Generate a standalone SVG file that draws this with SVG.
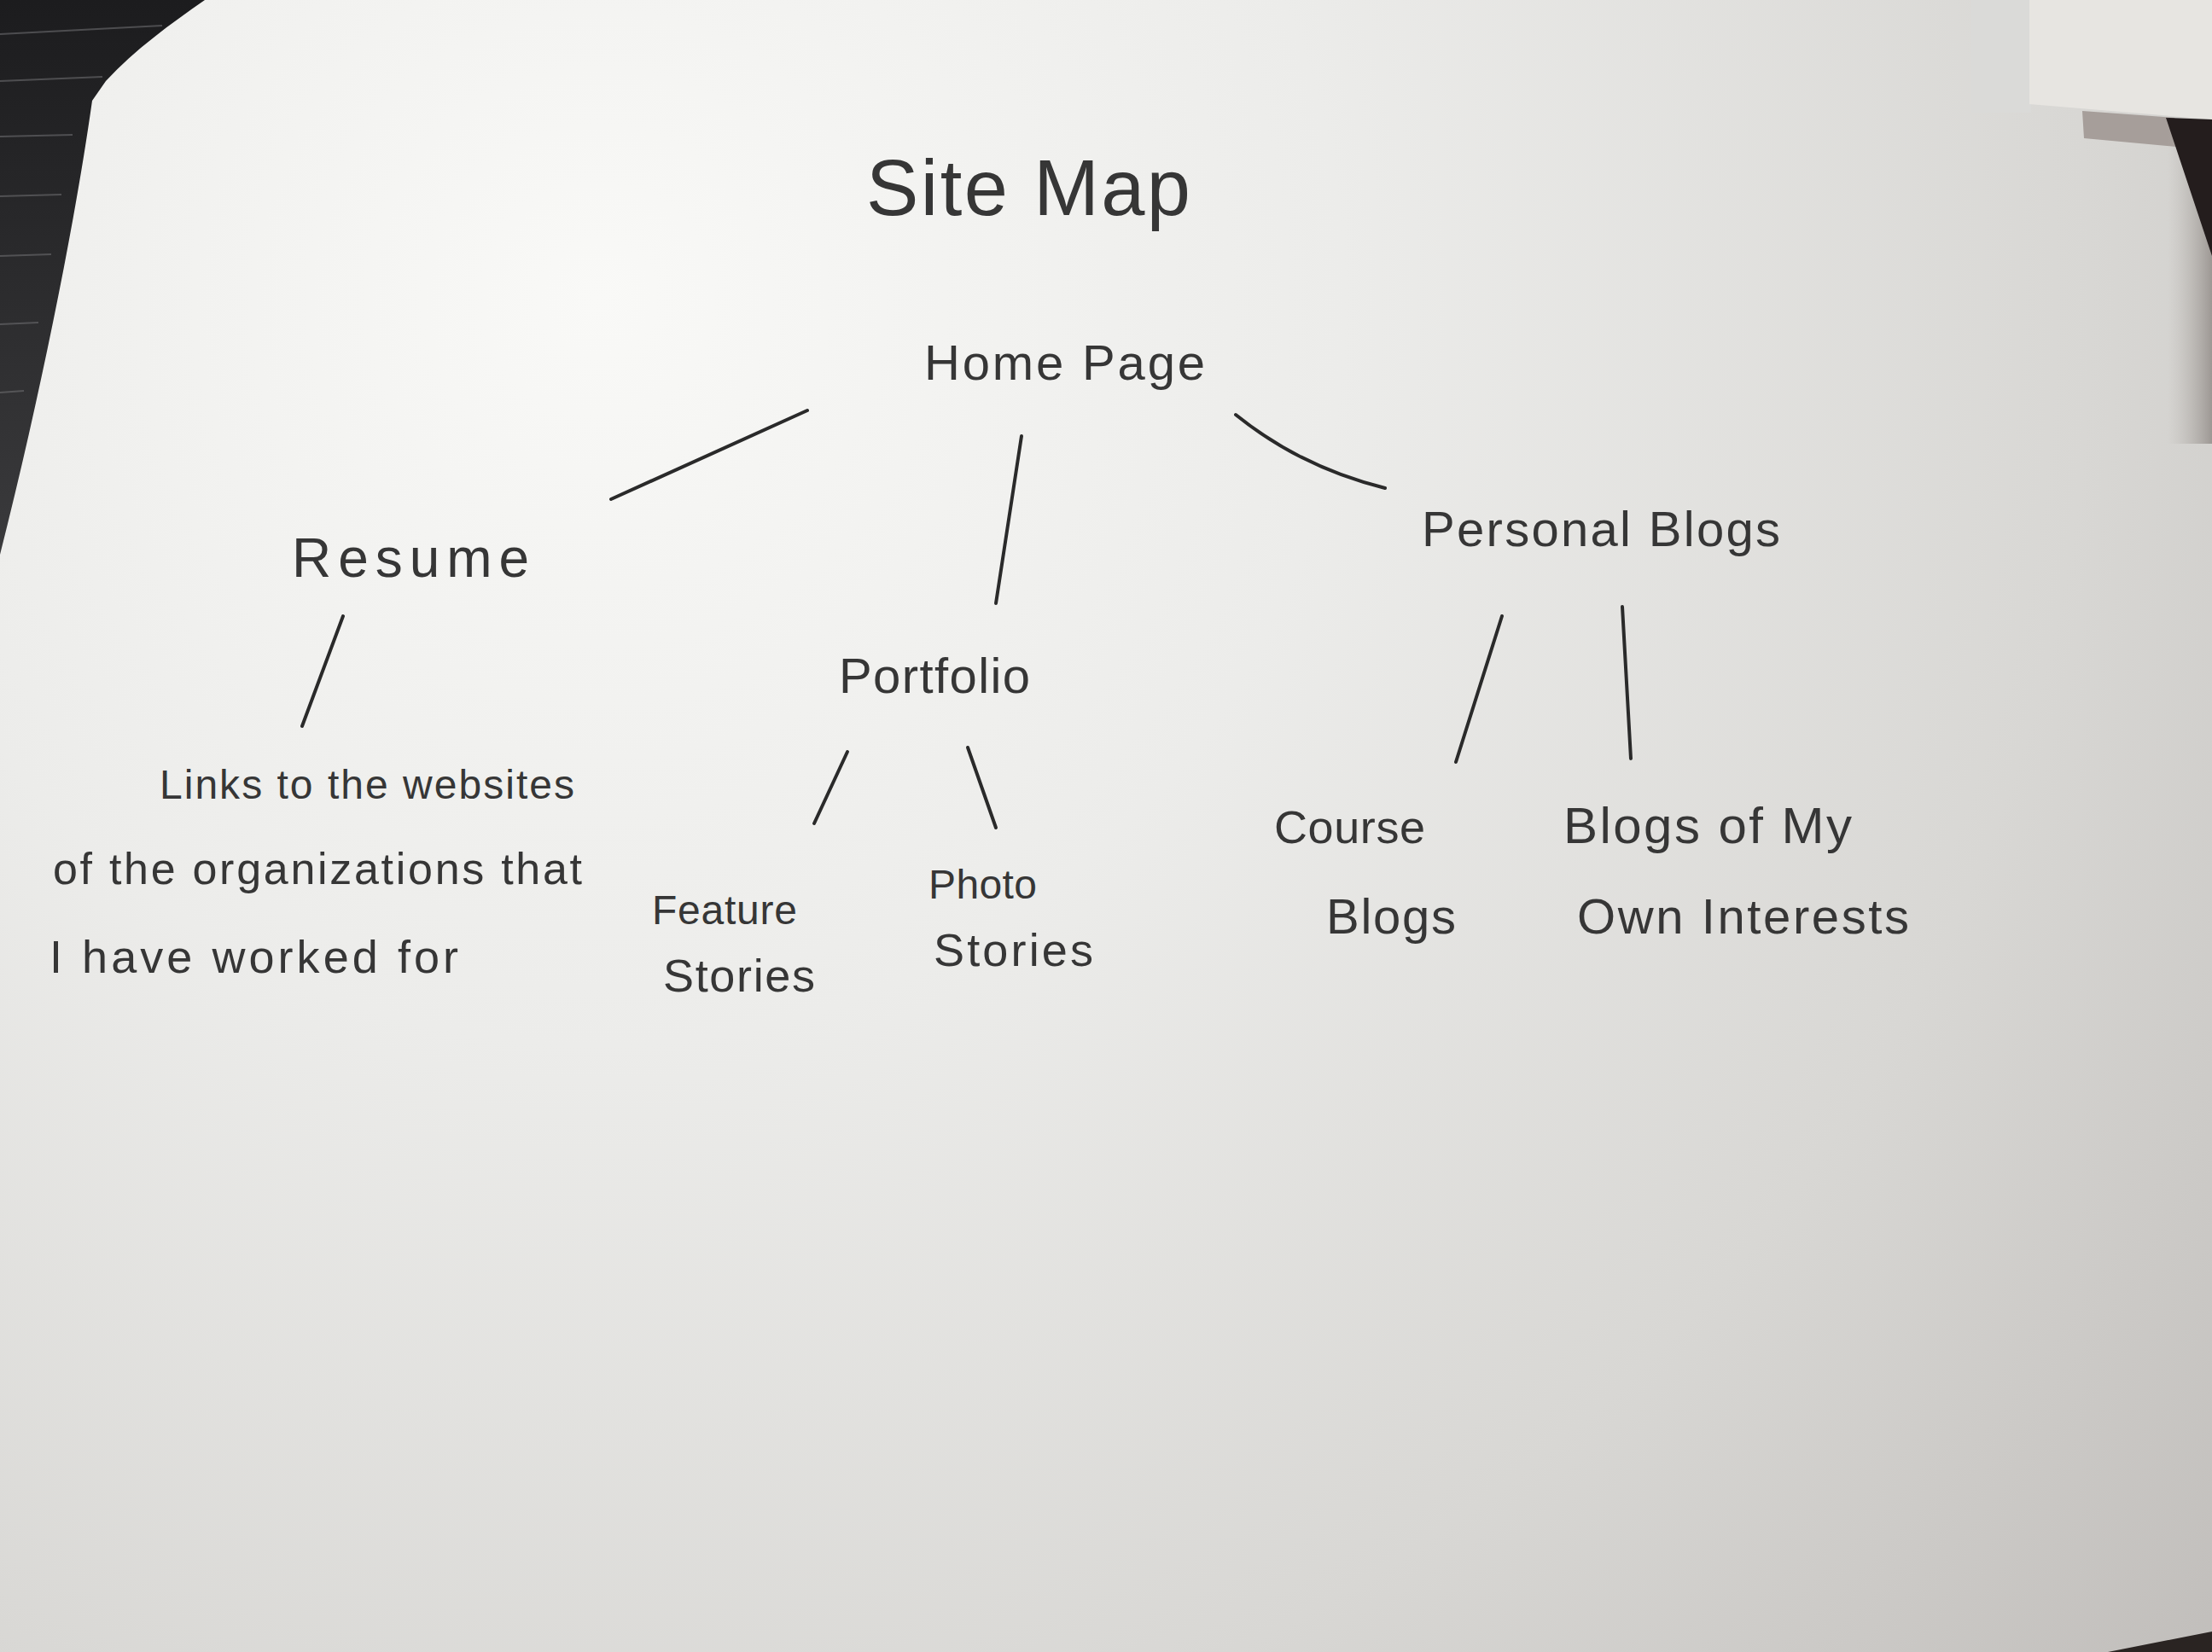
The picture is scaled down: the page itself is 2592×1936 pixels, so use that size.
<svg xmlns="http://www.w3.org/2000/svg" width="2592" height="1936" viewBox="0 0 2592 1936">
<defs>
<radialGradient id="paper" cx="700" cy="350" r="2500" gradientUnits="userSpaceOnUse">
<stop offset="0" stop-color="#f9f9f7"/>
<stop offset="0.35" stop-color="#ececea"/>
<stop offset="0.7" stop-color="#d8d7d4"/>
<stop offset="1" stop-color="#c0bdba"/>
</radialGradient>
<linearGradient id="table" x1="0" y1="0" x2="0" y2="1">
<stop offset="0" stop-color="#1c1c1e"/>
<stop offset="1" stop-color="#3a3a3c"/>
</linearGradient>
<linearGradient id="rightShade" x1="0" y1="0" x2="1" y2="0">
<stop offset="0" stop-color="#b8b3ae" stop-opacity="0"/>
<stop offset="1" stop-color="#8f8985" stop-opacity="0.8"/>
</linearGradient>
<style>
.t{font-family:"Liberation Sans","DejaVu Sans",sans-serif;fill:#363636;}
.c{fill:none;stroke:#2a2a2a;stroke-width:4;stroke-linecap:round;}
</style>
</defs>

<g id="background">
<rect x="0" y="0" width="2592" height="1936" fill="url(#paper)"/>
<path d="M0,0 L240,0 C200,28 158,58 124,95 L108,118 C88,260 48,460 0,650 Z" fill="url(#table)"/>
<g stroke="#6d6d70" stroke-width="2" opacity="0.6">
<line x1="0" y1="40" x2="190" y2="30"/>
<line x1="0" y1="95" x2="120" y2="90"/>
<line x1="0" y1="160" x2="85" y2="158"/>
<line x1="0" y1="230" x2="72" y2="228"/>
<line x1="0" y1="300" x2="60" y2="298"/>
<line x1="0" y1="380" x2="45" y2="378"/>
<line x1="0" y1="460" x2="28" y2="458"/>
</g>
<rect x="2310" y="0" width="70" height="132" fill="#dadad8"/>
<path d="M2378,0 L2592,0 L2592,140 L2378,122 Z" fill="#e7e5e1"/>
<path d="M2440,130 L2548,138 L2550,172 L2442,162 Z" fill="#a69e9a"/>
<rect x="2540" y="140" width="52" height="380" fill="url(#rightShade)"/>
<path d="M2538,138 L2592,140 L2592,300 Z" fill="#241d1d"/>
<path d="M2470,1936 L2592,1912 L2592,1936 Z" fill="#2a2422"/>
</g>

<g id="title">
<text class="t" x="1015" y="252" font-size="92" textLength="380" lengthAdjust="spacing">Site Map</text>
</g>

<g id="connectors">
<path class="c" d="M946,481 L716,585"/>
<path class="c" d="M1197,511 L1167,707"/>
<path class="c" d="M1448,486 Q1525,548 1623,572"/>
<path class="c" d="M402,722 L354,851"/>
<path class="c" d="M993,881 L954,965"/>
<path class="c" d="M1134,876 L1167,970"/>
<path class="c" d="M1760,722 L1706,893"/>
<path class="c" d="M1901,711 L1911,889"/>
</g>

<g id="home">
<text class="t" x="1083" y="445" font-size="58" textLength="329" lengthAdjust="spacing">Home Page</text>
</g>
<g id="resume">
<text class="t" x="342" y="676" font-size="64" textLength="278" lengthAdjust="spacing">Resume</text>
</g>
<g id="portfolio">
<text class="t" x="983" y="812" font-size="58" textLength="224" lengthAdjust="spacing">Portfolio</text>
</g>
<g id="personal-blogs">
<text class="t" x="1666" y="640" font-size="58" textLength="420" lengthAdjust="spacing">Personal Blogs</text>
</g>
<g id="links">
<text class="t" x="187" y="936" font-size="48" textLength="486" lengthAdjust="spacing">Links to the websites</text>
<text class="t" x="62" y="1036" font-size="52" textLength="620" lengthAdjust="spacing">of the organizations that</text>
<text class="t" x="58" y="1140" font-size="54" textLength="479" lengthAdjust="spacing">I have worked for</text>
</g>
<g id="feature-stories">
<text class="t" x="764" y="1083" font-size="48" textLength="170" lengthAdjust="spacing">Feature</text>
<text class="t" x="777" y="1162" font-size="54" textLength="178" lengthAdjust="spacing">Stories</text>
</g>
<g id="photo-stories">
<text class="t" x="1088" y="1053" font-size="48" textLength="127" lengthAdjust="spacing">Photo</text>
<text class="t" x="1094" y="1132" font-size="54" textLength="187" lengthAdjust="spacing">Stories</text>
</g>
<g id="course-blogs">
<text class="t" x="1493" y="988" font-size="54" textLength="177" lengthAdjust="spacing">Course</text>
<text class="t" x="1554" y="1094" font-size="58" textLength="152" lengthAdjust="spacing">Blogs</text>
</g>
<g id="own-interests">
<text class="t" x="1832" y="988" font-size="60" textLength="338" lengthAdjust="spacing">Blogs of My</text>
<text class="t" x="1848" y="1094" font-size="58" textLength="389" lengthAdjust="spacing">Own Interests</text>
</g>
</svg>
